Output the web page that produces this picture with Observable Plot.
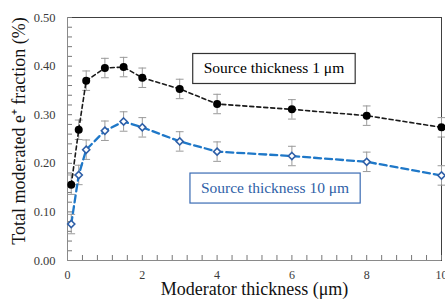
<!DOCTYPE html>
<html>
<head>
<meta charset="utf-8">
<script src="https://cdn.jsdelivr.net/npm/d3@7"></script>
<script src="https://cdn.jsdelivr.net/npm/@observablehq/plot@0.6"></script>
<style>
  html, body { margin: 0; padding: 0; background: #fff; }
  #chart { width: 445px; height: 300px; }
  #chart svg text { font-family: 'Liberation Serif', 'Times New Roman', serif; }
</style>
</head>
<body>
<div id="chart"></div>
<script>
// Data
const thickness = [0.1, 0.3, 0.5, 1, 1.5, 2, 3, 4, 6, 8, 10];
const frac1um  = [0.156, 0.269, 0.370, 0.396, 0.398, 0.376, 0.353, 0.322, 0.311, 0.298, 0.274];
const frac10um = [0.075, 0.176, 0.228, 0.267, 0.286, 0.274, 0.245, 0.224, 0.215, 0.203, 0.175];
const err1um  = [0.02, 0.02, 0.02, 0.02, 0.02, 0.02, 0.02, 0.02, 0.02, 0.02, 0.02];
const err10um = [0.02, 0.02, 0.02, 0.02, 0.02, 0.02, 0.02, 0.02, 0.02, 0.02, 0.02];
const xTicks = [0, 2, 4, 6, 8, 10];
const yTicks = [0, 0.1, 0.2, 0.3, 0.4, 0.5];
const xMinorTicks = d3.range(0, 26).map(i => +(i * 0.4).toFixed(2));
const yMinorTicks = d3.range(0, 26).map(i => +(i * 0.02).toFixed(2));
const annLabels = ["Source thickness 1 μm", "Source thickness 10 μm"];
const annX = [5.52, 5.55];
const annY = [0.395, 0.149];
const xLabel = "Moderator thickness (μm)";
const yLabel = "Total moderated e\u207A fraction (%)";

const s1 = thickness.map((x, i) => ({x, y: frac1um[i], e: err1um[i]}));
const s10 = thickness.map((x, i) => ({x, y: frac10um[i], e: err10um[i]}));
const ann = annLabels.map((t, i) => ({t, x: annX[i], y: annY[i], c: i === 0 ? "#000" : "#2f5fa7"}));

const W = 445, H = 300, mL = 67, mR = 4, mT = 17, mB = 40;
const plotW = W - mL - mR, plotH = H - mT - mB;
const tickLen = 5;

const font = "'Liberation Serif', 'Times New Roman', serif";
const capShape = {draw(ctx, l) { ctx.moveTo(-l / 2, 0); ctx.lineTo(l / 2, 0); }};
const errColor = "#9a9a9a";

function errMarks(data) {
  return [
    Plot.ruleX(data, {x: "x", y1: d => d.y - d.e, y2: d => d.y + d.e, stroke: errColor, strokeWidth: 1}),
    Plot.vector(data, {x: "x", y: d => d.y - d.e, length: 7, shape: capShape, anchor: "start", stroke: errColor, strokeWidth: 1}),
    Plot.vector(data, {x: "x", y: d => d.y + d.e, length: 7, shape: capShape, anchor: "start", stroke: errColor, strokeWidth: 1})
  ];
}

const chart = Plot.plot({
  width: W,
  height: H,
  marginLeft: mL,
  marginRight: mR,
  marginTop: mT,
  marginBottom: mB,
  style: {fontFamily: font, background: "#fff", overflow: "visible"},
  x: {domain: [0, 10]},
  y: {domain: [0, 0.5]},
  marks: [
    Plot.frame({stroke: "#404040", strokeWidth: 1}),
    // inward ticks
    Plot.tickX(xMinorTicks, {x: d => d, insetTop: plotH - tickLen, stroke: "#777"}),
    Plot.tickY(yMinorTicks, {y: d => d, insetRight: plotW - tickLen, stroke: "#777"}),
    Plot.axisX({ticks: xTicks, tickSize: 0, tickPadding: 10, tickFormat: d => d, fontSize: 12, fontFamily: font, fill: "#3a3a3a", label: null}),
    Plot.axisY({ticks: yTicks, tickSize: 0, tickPadding: 12, tickFormat: d3.format(".2f"), fontSize: 12.5, fontFamily: font, fill: "#3a3a3a", label: null}),
    Plot.ruleX([0], {stroke: "#8a8a8a"}),
    Plot.ruleY([0], {stroke: "#8a8a8a"}),
    // error bars
    ...errMarks(s1),
    ...errMarks(s10),
    // lines
    Plot.line(s1, {x: "x", y: "y", stroke: "#1a1a1a", strokeWidth: 1.6, strokeDasharray: "4,3"}),
    Plot.line(s10, {x: "x", y: "y", stroke: "#1f78c8", strokeWidth: 2.3, strokeDasharray: "7,4"}),
    // markers
    Plot.dot(s1, {x: "x", y: "y", r: 4, fill: "#000", stroke: "none"}),
    Plot.dot(s10, {x: "x", y: "y", r: 3.2, symbol: "diamond2", fill: "#fff", stroke: "#2f5fa7", strokeWidth: 1.6}),
    // annotations
    Plot.text(ann, {x: "x", y: "y", text: "t", fill: "c", fontSize: 15.5, fontFamily: font, className: "ann"}),
    // axis labels
    Plot.text([xLabel], {frameAnchor: "bottom", textAnchor: "middle", dy: 34, fontSize: 18, fontFamily: font, fill: "#111", text: d => d}),
    Plot.text([yLabel], {frameAnchor: "left", textAnchor: "middle", dx: -48, dy: -8, rotate: -90, fontSize: 18, fontFamily: font, fill: "#111", text: d => d})
  ]
});

document.getElementById("chart").appendChild(chart);

// draw boxes around annotation texts
const svg = d3.select(chart);
svg.selectAll("g.ann text").each(function () {
  const bb = this.getBBox();
  const col = this.getAttribute("fill");
  const padX = 11, padY = 7;
  d3.select(this.parentNode).insert("rect", () => this)
    .attr("x", bb.x - padX).attr("y", bb.y - padY + 1)
    .attr("width", bb.width + 2 * padX).attr("height", bb.height + 2 * padY - 1)
    .attr("fill", "#fff")
    .attr("stroke", col === "#000" ? "#333" : "#3a6bb3")
    .attr("stroke-width", 1.2)
    .attr("transform", this.getAttribute("transform"));
});
</script>
</body>
</html>
